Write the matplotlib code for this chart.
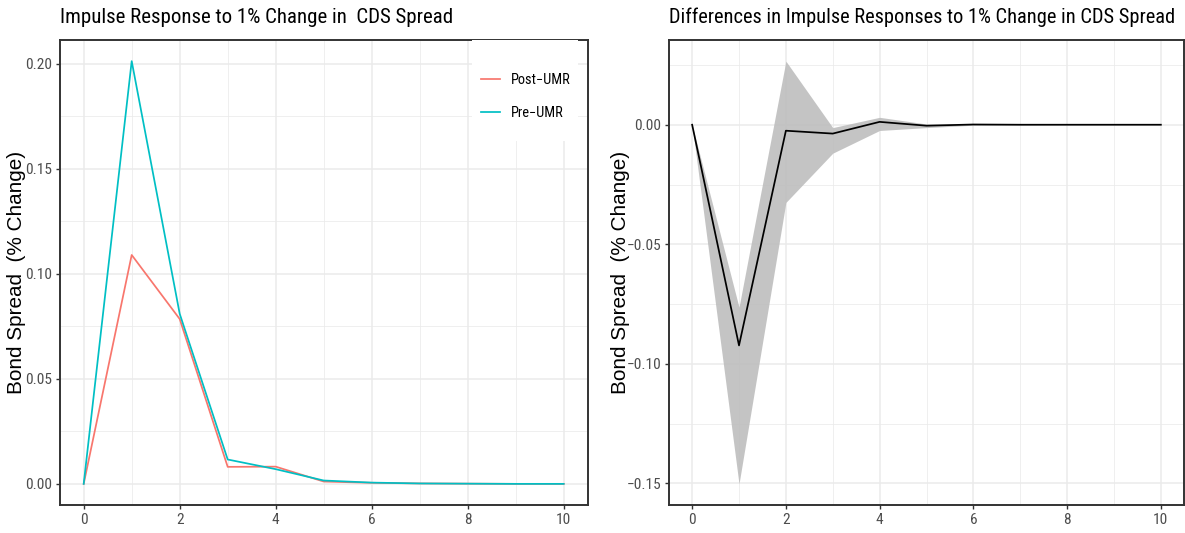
import os
import matplotlib
matplotlib.use('Agg')
import matplotlib.pyplot as plt
from matplotlib import font_manager
from matplotlib.patches import Rectangle
from matplotlib.ticker import MultipleLocator, FuncFormatter

steps = [0, 1, 2, 3, 4, 5, 6, 7, 8, 9, 10]
post_umr = [0.0, 0.1090, 0.0785, 0.0081, 0.0082, 0.0011, 0.0005, 0.0002, 0.0001, 0.0, 0.0]
pre_umr = [0.0, 0.2013, 0.0810, 0.0116, 0.0070, 0.0016, 0.0006, 0.0002, 0.0001, 0.0, 0.0]
diff = [0.0, -0.0923, -0.0025, -0.0037, 0.0012, -0.0004, 0.0001, 0.0, 0.0, 0.0, 0.0]
diff_lo = [0.0, -0.1502, -0.0325, -0.0119, -0.0024, -0.0012, -0.0002, 0.0, 0.0, 0.0, 0.0]
diff_hi = [0.0, -0.0763, 0.0266, -0.0012, 0.0031, 0.0003, 0.0002, 0.0001, 0.0, 0.0, 0.0]

title_l = 'Impulse Response to 1% Change in  CDS Spread'
title_r = 'Differences in Impulse Responses to 1% Change in CDS Spread'
ylab = 'Bond Spread  (% Change)'

# look for a narrow / condensed sans, the reference uses one
prefs = ['liberationsansnarrow-regular', 'arialn', 'robotocondensed-regular',
         'notosans-condensed.', 'notosans_condensed-regular', 'dejavusanscondensed.',
         'opensans-condensedregular', 'opensans_condensed-regular']
found = {}
for f in font_manager.fontManager.ttflist:
    base = os.path.basename(f.fname).lower()
    for p in prefs:
        if base.startswith(p) and p not in found:
            found[p] = f
narrow = None
for p in prefs:
    if p in found:
        narrow = found[p]
        break
if narrow is not None:
    plt.rcParams['font.family'] = [narrow.name, 'DejaVu Sans']
    plt.rcParams['font.stretch'] = narrow.stretch
else:
    plt.rcParams['font.family'] = ['Liberation Sans', 'DejaVu Sans']

W, H = 1185, 533
fig = plt.figure(figsize=(W / 100, H / 100), dpi=100)
renderer = fig.canvas.get_renderer()


def size_for(s, target, **kw):
    t = fig.text(0, 0, s, fontsize=10, **kw)
    w = t.get_window_extent(renderer).width
    t.remove()
    return 10 * target / w


tick_size = size_for('0.00', 26.5)
leg_size = size_for('Post\u2212UMR', 60)
tl_size = size_for(title_l, 392)
tr_size = size_for(title_r, 503)
ylab_size = size_for(ylab, 244, family='Liberation Sans', stretch='normal')


def fmt(v, pos):
    s = '%.2f' % v
    if s == '-0.00':
        s = '0.00'
    return s.replace('-', '\u2212')


def style(ax):
    ax.set_facecolor('white')
    ax.margins(x=0.05, y=0.05)
    ax.xaxis.set_major_locator(MultipleLocator(2))
    ax.xaxis.set_minor_locator(MultipleLocator(1))
    ax.yaxis.set_major_locator(MultipleLocator(0.05))
    ax.yaxis.set_minor_locator(MultipleLocator(0.025))
    ax.yaxis.set_major_formatter(FuncFormatter(fmt))
    ax.grid(which='major', color='#EBEBEB', lw=1.1, zorder=0)
    ax.grid(which='minor', color='#EBEBEB', lw=0.55, zorder=0)
    ax.set_axisbelow(True)
    ax.tick_params(which='major', length=3, width=1.0, color='#333333',
                   labelsize=tick_size, labelcolor='#4D4D4D', pad=2.5)
    ax.tick_params(which='minor', length=0)
    for sp in ax.spines.values():
        sp.set_color('#333333')
        sp.set_linewidth(1.4)


# left panel
ax1 = fig.add_axes([59.7 / W, 1 - 505 / H, 528 / W, 465 / H])
ax1.plot(steps, post_umr, color='#F8766D', lw=1.25, label='Post\u2212UMR')
ax1.plot(steps, pre_umr, color='#00BFC4', lw=1.25, label='Pre\u2212UMR')
style(ax1)
ax1.set_title(title_l, loc='left', fontsize=tl_size, pad=12)
ax1.set_ylabel(ylab, family='Liberation Sans', stretch='normal',
               fontsize=ylab_size, va='center')
ax1.yaxis.set_label_coords((17 - 59.7) / 528, 0.5)

# legend background box
ax1.add_patch(Rectangle(((472 - 59.7) / 528, (505 - 141) / 465),
                        106 / 528, 101 / 465, transform=ax1.transAxes,
                        facecolor='white', edgecolor='none', zorder=2.6,
                        clip_on=False))
ax1.legend(loc='upper left', bbox_to_anchor=((481 - 59.7) / 528, (505 - 73) / 465),
           frameon=False, fontsize=leg_size, borderpad=0, handlelength=1.35,
           handletextpad=0.7, labelspacing=1.3, borderaxespad=0)

# right panel
ax2 = fig.add_axes([668.7 / W, 1 - 505 / H, 515.6 / W, 465 / H])
ax2.fill_between(steps, diff_lo, diff_hi, color='#BEBEBE', alpha=0.9, lw=0)
ax2.plot(steps, diff, color='black', lw=1.25)
style(ax2)
ax2.set_title(title_r, loc='left', fontsize=tr_size, pad=12)
ax2.set_ylabel(ylab, family='Liberation Sans', stretch='normal',
               fontsize=ylab_size, va='center')
ax2.yaxis.set_label_coords((620 - 668.7) / 515.6, 0.5)

fig.savefig('out.png', dpi=100)
